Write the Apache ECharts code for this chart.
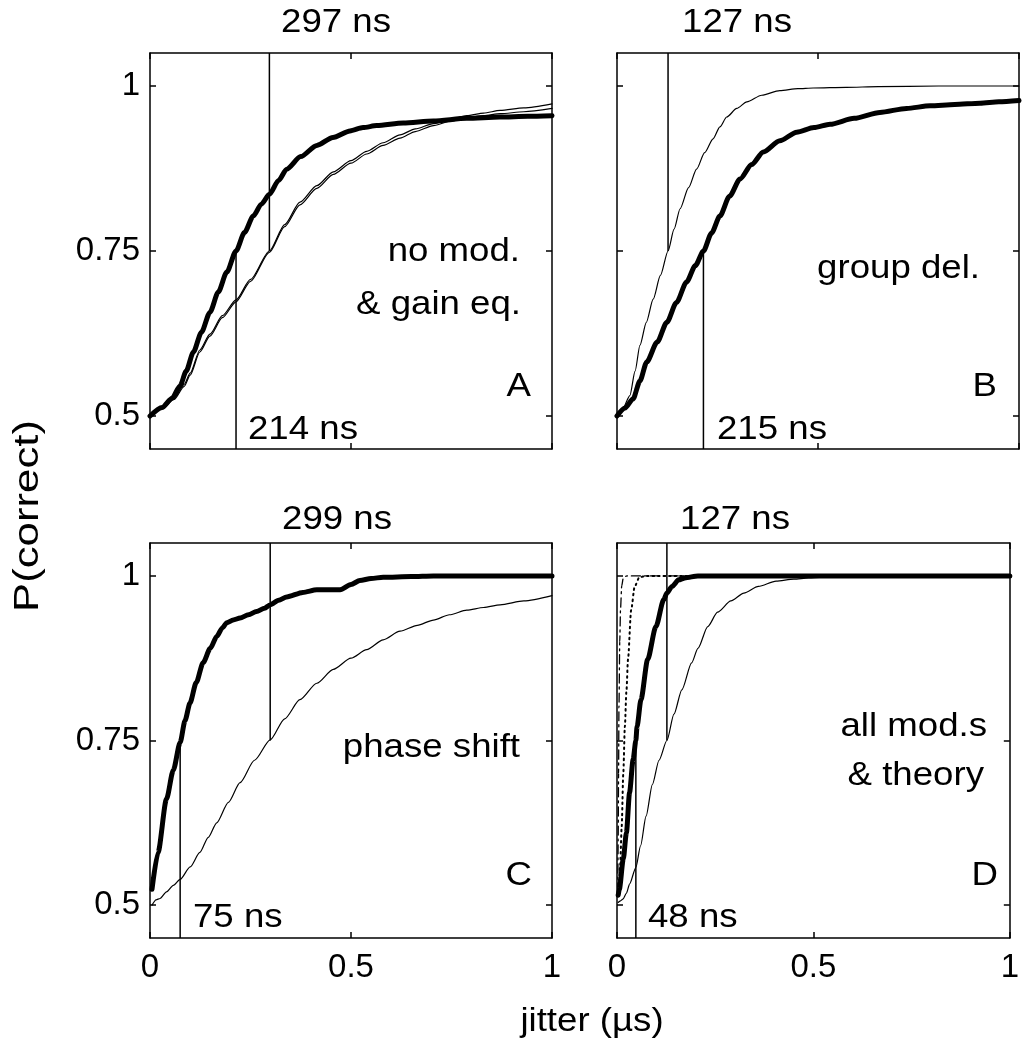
<!DOCTYPE html>
<html><head><meta charset="utf-8">
<script src="https://cdn.jsdelivr.net/npm/echarts@6/dist/echarts.min.js"></script>
<style>html,body{margin:0;padding:0;background:#fff}#chart{width:1022px;height:1043px}</style>
</head><body><div id="chart"></div>
<script>
// ---------- data (jitter in µs, P(correct)) ----------
const xTicks = [0, 0.5, 1];
const yTicks = [0.5, 0.75, 1];

// Panel A: no mod. & gain eq.
const aThick = [[0,0.5],[0.03,0.513],[0.055,0.527],[0.075,0.546],[0.09,0.568],[0.108,0.597],[0.128,0.627],[0.149,0.657],[0.17,0.688],[0.191,0.718],[0.214,0.75],[0.235,0.778],[0.257,0.803],[0.277,0.821],[0.297,0.836],[0.32,0.857],[0.34,0.874],[0.375,0.893],[0.415,0.91],[0.455,0.922],[0.4975,0.932],[0.53,0.937],[0.564,0.94],[0.63,0.944],[0.705,0.947],[0.788,0.951],[0.87,0.953],[0.94,0.954],[1,0.955]];
const aThin1 = [[0,0.5],[0.03,0.512],[0.06,0.527],[0.085,0.548],[0.1,0.565],[0.124,0.6],[0.149,0.624],[0.18,0.652],[0.214,0.676],[0.25,0.707],[0.297,0.75],[0.335,0.79],[0.373,0.824],[0.415,0.849],[0.456,0.87],[0.5,0.887],[0.539,0.901],[0.58,0.914],[0.622,0.926],[0.66,0.935],[0.705,0.943],[0.75,0.95],[0.788,0.955],[0.83,0.959],[0.871,0.963],[0.93,0.967],[1,0.973]];
const aThin2 = [[0,0.5],[0.03,0.511],[0.06,0.525],[0.085,0.545],[0.1,0.562],[0.124,0.597],[0.149,0.621],[0.18,0.649],[0.214,0.673],[0.25,0.704],[0.297,0.748],[0.335,0.787],[0.373,0.82],[0.415,0.845],[0.456,0.866],[0.5,0.883],[0.539,0.897],[0.58,0.91],[0.622,0.921],[0.66,0.931],[0.705,0.94],[0.75,0.947],[0.788,0.952],[0.83,0.955],[0.871,0.958],[0.93,0.961],[1,0.966]];

// Panel B: group del.
const bThin = [[0,0.5],[0.015,0.512],[0.032,0.531],[0.045,0.568],[0.057,0.607],[0.073,0.642],[0.09,0.677],[0.108,0.713],[0.127,0.75],[0.142,0.783],[0.157,0.814],[0.178,0.846],[0.198,0.874],[0.218,0.899],[0.239,0.92],[0.256,0.938],[0.273,0.953],[0.298,0.966],[0.323,0.976],[0.36,0.986],[0.405,0.993],[0.45,0.996],[0.488,0.997],[0.57,0.998],[0.65,0.999],[0.8,1],[1,1]];
const bThick = [[0,0.5],[0.02,0.512],[0.04,0.526],[0.057,0.553],[0.074,0.582],[0.1,0.612],[0.124,0.642],[0.148,0.672],[0.173,0.703],[0.195,0.728],[0.215,0.75],[0.235,0.777],[0.256,0.803],[0.28,0.833],[0.306,0.859],[0.335,0.881],[0.364,0.9],[0.405,0.917],[0.447,0.93],[0.49,0.937],[0.53,0.942],[0.59,0.951],[0.654,0.96],[0.72,0.966],[0.779,0.97],[0.84,0.972],[0.903,0.974],[0.95,0.976],[1,0.978]];

// Panel C: phase shift
const cThin = [[0.005,0.5],[0.015,0.508],[0.025,0.51],[0.041,0.52],[0.058,0.53],[0.075,0.539],[0.1,0.558],[0.124,0.58],[0.145,0.603],[0.166,0.625],[0.195,0.656],[0.224,0.686],[0.26,0.72],[0.299,0.751],[0.335,0.783],[0.373,0.812],[0.415,0.837],[0.456,0.858],[0.5,0.875],[0.539,0.888],[0.58,0.903],[0.622,0.916],[0.665,0.925],[0.705,0.933],[0.745,0.941],[0.788,0.948],[0.83,0.952],[0.871,0.956],[0.93,0.962],[1,0.97]];
const cThick = [[0.005,0.524],[0.02,0.58],[0.041,0.661],[0.058,0.705],[0.075,0.747],[0.087,0.78],[0.0995,0.807],[0.115,0.838],[0.132,0.868],[0.15,0.89],[0.166,0.908],[0.18,0.921],[0.191,0.929],[0.207,0.933],[0.224,0.936],[0.245,0.941],[0.265,0.946],[0.285,0.951],[0.299,0.956],[0.32,0.963],[0.34,0.968],[0.38,0.975],[0.415,0.979],[0.445,0.979],[0.473,0.979],[0.5,0.987],[0.522,0.993],[0.55,0.996],[0.58,0.998],[0.65,0.999],[0.705,1],[1,1]];

// Panel D: all mod.s & theory
const dDashDot = [[0.002,0.52],[0.003,0.6],[0.004,0.7],[0.005,0.8],[0.007,0.9],[0.009,0.95],[0.012,0.985],[0.016,0.997],[0.025,1],[1,1]];
const dDotted = [[0.004,0.52],[0.008,0.56],[0.012,0.62],[0.016,0.7],[0.02,0.771],[0.024,0.825],[0.028,0.873],[0.036,0.948],[0.045,0.984],[0.057,0.998],[0.075,1],[1,1]];
const dThin = [[0.003,0.504],[0.008,0.506],[0.015,0.509],[0.024,0.518],[0.032,0.532],[0.048,0.557],[0.06,0.59],[0.074,0.635],[0.09,0.683],[0.107,0.72],[0.127,0.75],[0.145,0.79],[0.165,0.827],[0.19,0.868],[0.206,0.89],[0.231,0.923],[0.256,0.945],[0.29,0.962],[0.323,0.974],[0.36,0.984],[0.405,0.992],[0.45,0.995],[0.488,0.997],[0.57,1],[1,1]];
const dThick = [[0.003,0.515],[0.006,0.524],[0.016,0.57],[0.024,0.61],[0.032,0.671],[0.041,0.721],[0.048,0.75],[0.051,0.771],[0.061,0.812],[0.078,0.873],[0.099,0.923],[0.119,0.964],[0.127,0.974],[0.14,0.984],[0.157,0.994],[0.173,0.997],[0.206,1],[1,1]];

// threshold markers (µs): lower = thick curve reaches 0.75, upper = thin curve reaches 0.75
const markerLow = [0.214, 0.215, 0.075, 0.048];
const markerHigh = [0.297, 0.127, 0.299, 0.127];
const panelNames = ['A', 'B', 'C', 'D'];
const panelText = [['no mod.', '& gain eq.'], ['group del.'], ['phase shift'], ['all mod.s', '& theory']];

// ---------- layout / style ----------
const FONT = '"Liberation Sans", Arial, Helvetica, sans-serif';
const Y_MIN = 0.45, Y_MAX = 1.05;
const grids = [
  {left:150, top:53, width:402, height:396},
  {left:617, top:53, width:402, height:396},
  {left:150, top:543, width:402, height:395},
  {left:617, top:543, width:402, height:395}
];
const curves = [
  [{d:aThin1,w:1.2},{d:aThin2,w:1.2},{d:aThick,w:5}],
  [{d:bThin,w:1.2},{d:bThick,w:5}],
  [{d:cThin,w:1.2},{d:cThick,w:5}],
  [{d:dDashDot,w:1.3,t:[9,4,2,4]},{d:dDotted,w:2,t:[1.5,4]},{d:dThin,w:1.2},{d:dThick,w:5}]
];

const axLine = {show:true, onZero:false, lineStyle:{color:'#000', width:1.5}};
const tickSty = {color:'#000', width:1.5};
const xAxis = [], yAxis = [], series = [];
grids.forEach((g, i) => {
  const showX = i >= 2, showY = i % 2 === 0;
  xAxis.push({gridIndex:i, type:'value', min:0, max:1, position:'bottom', axisLine:axLine,
    axisTick:{show:true, inside:true, length:6, customValues:xTicks, lineStyle:tickSty},
    axisLabel:{show:showX, customValues:xTicks, color:'#000', fontSize:33, fontFamily:FONT, margin:13},
    splitLine:{show:false}});
  xAxis.push({gridIndex:i, type:'value', min:0, max:1, position:'top', axisLine:axLine,
    axisTick:{show:true, inside:true, length:6, customValues:xTicks, lineStyle:tickSty},
    axisLabel:{show:false}, splitLine:{show:false}});
  yAxis.push({gridIndex:i, type:'value', min:Y_MIN, max:Y_MAX, position:'left', axisLine:axLine,
    axisTick:{show:true, inside:true, length:6, customValues:yTicks, lineStyle:tickSty},
    axisLabel:{show:showY, customValues:yTicks, color:'#000', fontSize:33, fontFamily:FONT, margin:10},
    splitLine:{show:false}});
  yAxis.push({gridIndex:i, type:'value', min:Y_MIN, max:Y_MAX, position:'right', axisLine:axLine,
    axisTick:{show:true, inside:true, length:6, customValues:yTicks, lineStyle:tickSty},
    axisLabel:{show:false}, splitLine:{show:false}});
  const xi = 2 * i, yi = 2 * i;
  // marker lines
  series.push({type:'line', xAxisIndex:xi, yAxisIndex:yi, symbol:'none', silent:true,
    data:[[markerLow[i], Y_MIN], [markerLow[i], 0.75]], lineStyle:{color:'#000', width:1.5}});
  series.push({type:'line', xAxisIndex:xi, yAxisIndex:yi, symbol:'none', silent:true,
    data:[[markerHigh[i], 0.75], [markerHigh[i], Y_MAX]], lineStyle:{color:'#000', width:1.5}});
  curves[i].forEach(c => {
    series.push({type:'line', xAxisIndex:xi, yAxisIndex:yi, symbol:'none', showSymbol:false, silent:true,
      smooth:0.25, smoothMonotone:'x', data:c.d,
      lineStyle:{color:'#000', width:c.w, type:c.t || 'solid', cap:'round', join:'round'}});
  });
});

function txt(text, x, y, align, extra, size, sx) {
  return Object.assign({type:'text', x:x, y:y, silent:true, scaleX:sx || 1.11,
    style:{text:text, font:(size || 33) + 'px ' + FONT, fill:'#000', align:align, verticalAlign:'middle',
      textAlign:align, textVerticalAlign:'middle'}}, extra || {});
}
const ns = v => Math.round(v * 1000) + ' ns';
const graphic = [
  // top markers
  txt(ns(markerHigh[0]), 336, 23, 'center'),
  txt(ns(markerHigh[1]), 737, 23, 'center'),
  txt(ns(markerHigh[2]), 337, 520, 'center'),
  txt(ns(markerHigh[3]), 735, 520, 'center'),
  // bottom markers
  txt(ns(markerLow[0]), 248, 430, 'left'),
  txt(ns(markerLow[1]), 717, 430, 'left'),
  txt(ns(markerLow[2]), 193, 918, 'left'),
  txt(ns(markerLow[3]), 648, 918, 'left'),
  // panel descriptions
  txt(panelText[0][0], 520, 252, 'right'),
  txt(panelText[0][1], 521, 305, 'right'),
  txt(panelText[1][0], 980, 269, 'right'),
  txt(panelText[2][0], 520, 748, 'right'),
  txt(panelText[3][0], 987, 727, 'right'),
  txt(panelText[3][1], 984, 776, 'right'),
  // panel letters
  txt(panelNames[0], 531, 387, 'right'),
  txt(panelNames[1], 997, 387, 'right'),
  txt(panelNames[2], 532, 876, 'right'),
  txt(panelNames[3], 998, 876, 'right'),
  // axis titles
  txt('jitter (µs)', 592, 1022, 'center'),
  txt('P(correct)', 28, 516, 'center', {rotation: Math.PI / 2}, 35, 1.25)
];

const chart = echarts.init(document.getElementById('chart'), null, {renderer:'canvas'});
chart.setOption({
  animation:false, backgroundColor:'#fff',
  grid: grids.map(g => Object.assign({containLabel:false}, g)),
  xAxis, yAxis, series, graphic
});
</script></body></html>
